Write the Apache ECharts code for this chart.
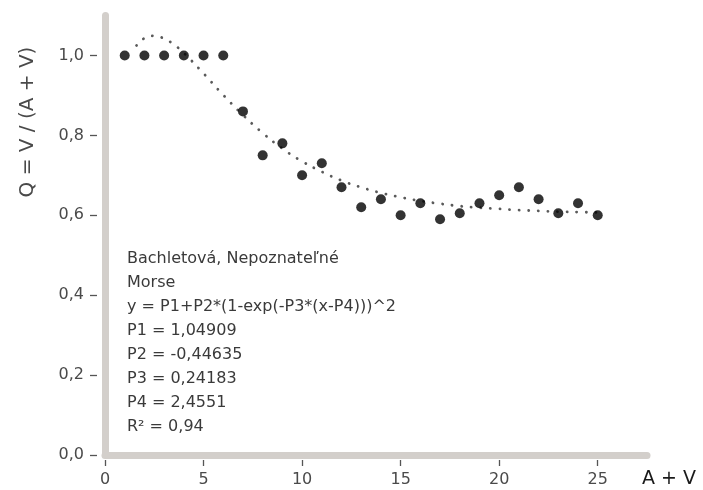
<!DOCTYPE html>
<html>
<head>
<meta charset="utf-8">
<script src="https://cdn.jsdelivr.net/npm/echarts@6/dist/echarts.min.js"></script>
<style>
  html, body { margin: 0; padding: 0; background: #fff; }
  #chart { width: 703px; height: 490px; }
</style>
</head>
<body>
<div id="chart"></div>
<script>
// Observed ratio Q = V / (A + V) for each count A + V
const countValues = [1, 2, 3, 4, 5, 6, 7, 8, 9, 10, 11, 12, 13, 14, 15, 16, 17, 18, 19, 20, 21, 22, 23, 24, 25];
const ratioValues = [1.0, 1.0, 1.0, 1.0, 1.0, 1.0, 0.86, 0.75, 0.78, 0.70, 0.73, 0.67, 0.62, 0.64, 0.60, 0.63, 0.59, 0.605, 0.63, 0.65, 0.67, 0.64, 0.605, 0.63, 0.60];

// Morse fit curve, sampled along x
const fitX = [1.6, 2, 2.5, 3, 3.5, 4, 5, 6, 7, 8, 9, 10, 11, 12, 13, 14, 15, 16, 17, 18, 19, 20, 21, 22, 23, 24, 25];
const fitY = [1.025, 1.043, 1.049, 1.042, 1.027, 1.006, 0.955, 0.901, 0.851, 0.806, 0.767, 0.735, 0.709, 0.687, 0.670, 0.656, 0.645, 0.636, 0.629, 0.623, 0.619, 0.616, 0.613, 0.611, 0.609, 0.608, 0.607];

// Axis ticks
const xTicks = [0, 5, 10, 15, 20, 25];
const yTicks = [0, 0.2, 0.4, 0.6, 0.8, 1.0];

// Annotation lines
const noteLines = [
  'Bachletová, Nepoznateľné',
  'Morse',
  'y = P1+P2*(1-exp(-P3*(x-P4)))^2',
  'P1 = 1,04909',
  'P2 = -0,44635',
  'P3 = 0,24183',
  'P4 = 2,4551',
  'R\u00B2 = 0,94'
];

const FONT = '"DejaVu Sans", "Noto Sans", sans-serif';
const TEXT = '#4a4a4a';
const BAND = '#d3cfcb';

const fmt = v => v.toFixed(1).replace('.', ',');

const chart = echarts.init(document.getElementById('chart'), null, { renderer: 'canvas' });

const XMIN = 0, XMAX = 27.5, YMIN = 0, YMAX = 1.1;

chart.setOption({
  animation: false,
  backgroundColor: '#ffffff',
  grid: { left: 105, right: 56, top: 15.5, bottom: 35 },
  xAxis: [
    {
      type: 'value', min: XMIN, max: XMAX,
      axisLine: { onZero: false, lineStyle: { color: BAND, width: 7 } },
      axisTick: { show: false }, axisLabel: { show: false }, splitLine: { show: false }
    },
    {
      type: 'value', min: XMIN, max: XMAX, position: 'bottom', offset: 5,
      axisLine: { show: false, onZero: false },
      axisTick: { show: true, length: 6, lineStyle: { color: '#555', width: 1.3 }, customValues: xTicks },
      axisLabel: { show: true, margin: 12, color: TEXT, fontFamily: FONT, fontSize: 16, customValues: xTicks },
      splitLine: { show: false },
      name: 'A + V', nameLocation: 'end', nameGap: -5,
      nameTextStyle: { color: '#1a1a1a', fontFamily: FONT, fontSize: 19, align: 'left', verticalAlign: 'top', padding: [10, 0, 0, 0] }
    }
  ],
  yAxis: [
    {
      type: 'value', min: YMIN, max: YMAX,
      axisLine: { onZero: false, lineStyle: { color: BAND, width: 7 } },
      axisTick: { show: false }, axisLabel: { show: false }, splitLine: { show: false }
    },
    {
      type: 'value', min: YMIN, max: YMAX, position: 'left', offset: 8,
      axisLine: { show: false, onZero: false },
      axisTick: { show: true, length: 7, lineStyle: { color: '#555', width: 1.3 }, customValues: yTicks },
      axisLabel: { show: true, margin: 13, color: TEXT, fontFamily: FONT, fontSize: 16, formatter: fmt, customValues: yTicks },
      splitLine: { show: false }
    }
  ],
  graphic: [
    {
      type: 'text', x: 28, y: 122, rotation: Math.PI / 2,
      style: {
        text: 'Q = V / (A + V)', fill: TEXT, font: '20px ' + FONT,
        align: 'center', verticalAlign: 'middle'
      }
    },
    {
      type: 'text', x: 127, y: 247,
      style: {
        text: noteLines.join('\n'), fill: '#3a3a3a', font: '16px ' + FONT,
        lineHeight: 24, align: 'left', verticalAlign: 'top'
      }
    }
  ],
  series: [
    {
      type: 'line', xAxisIndex: 0, yAxisIndex: 0,
      data: fitX.map((x, i) => [x, fitY[i]]),
      smooth: true, showSymbol: false, silent: true,
      lineStyle: { color: '#5a5a5a', width: 2.8, type: [0.1, 9.5], cap: 'round' },
      z: 2
    },
    {
      type: 'scatter', xAxisIndex: 0, yAxisIndex: 0,
      data: countValues.map((x, i) => [x, ratioValues[i]]),
      symbol: 'circle', symbolSize: 10,
      itemStyle: { color: '#000' },
      z: 3
    }
  ]
});
</script>
</body>
</html>
